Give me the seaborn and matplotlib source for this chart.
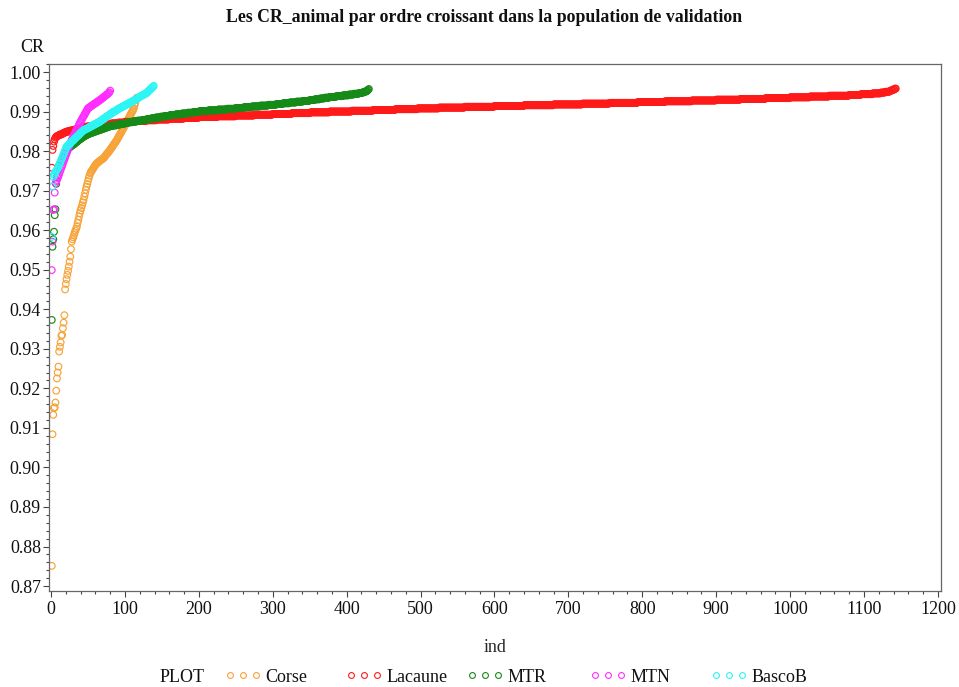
import numpy as np
import pandas as pd
import matplotlib
matplotlib.use("Agg")
import matplotlib.pyplot as plt
from matplotlib.lines import Line2D
from matplotlib.ticker import MultipleLocator, FormatStrFormatter
import seaborn as sns

# ---------------------------------------------------------------------------
# Sorted CR_animal values per breed (ind = rank within the breed).
# Dense series are stored as CR levels with the number of animals per level.
# ---------------------------------------------------------------------------
breeds = ["Corse", "Lacaune", "MTR", "MTN", "BascoB"]
colors = ["#F7A338", "#FF1A1A", "#168A16", "#FF2EFF", "#2EF5F5"]

corse_cr = [
    0.8751, 0.9084, 0.9133, 0.9150, 0.9152, 0.9164, 0.9194, 0.9225, 0.9240, 0.9255,
    0.9293, 0.9305, 0.9316, 0.9333, 0.9335, 0.9352, 0.9366, 0.9385, 0.9450, 0.9464,
    0.9476, 0.9487, 0.9497, 0.9508, 0.9520, 0.9533, 0.9552, 0.9571, 0.9577, 0.9582,
    0.9588, 0.9594, 0.9599, 0.9604, 0.9609, 0.9618, 0.9626, 0.9635, 0.9643, 0.9650,
    0.9656, 0.9663, 0.9670, 0.9676, 0.9685, 0.9693, 0.9702, 0.9710, 0.9717, 0.9724,
    0.9731, 0.9738, 0.9744, 0.9747, 0.9750, 0.9753, 0.9756, 0.9759, 0.9762, 0.9765,
    0.9767, 0.9769, 0.9771, 0.9772, 0.9774, 0.9775, 0.9777, 0.9778, 0.9779, 0.9781,
    0.9782, 0.9784, 0.9787, 0.9789, 0.9792, 0.9794, 0.9796, 0.9798, 0.9801, 0.9803,
    0.9806, 0.9809, 0.9811, 0.9814, 0.9817, 0.9820, 0.9822, 0.9825, 0.9828, 0.9831,
    0.9835, 0.9838, 0.9841, 0.9845, 0.9848, 0.9851, 0.9855, 0.9858, 0.9862, 0.9865,
    0.9869, 0.9872, 0.9876, 0.9879, 0.9883, 0.9887, 0.9890, 0.9894, 0.9897, 0.9901,
    0.9904, 0.9908, 0.9915, 0.9922, 0.9929, 0.9935,
]

lacaune_levels = [
    0.9758, 0.9803, 0.9813, 0.9824, 0.9830, 0.9834, 0.9836,
    0.9838, 0.9840, 0.9842, 0.9844, 0.9846, 0.9848, 0.9850, 0.9852, 0.9854, 0.9856,
    0.9858, 0.9860, 0.9862, 0.9864, 0.9866, 0.9868, 0.9870, 0.9872, 0.9874, 0.9876,
    0.9878, 0.9880, 0.9882, 0.9884, 0.9886, 0.9888, 0.9890, 0.9892, 0.9894, 0.9896,
    0.9898, 0.9900, 0.9902, 0.9904, 0.9906, 0.9908, 0.9910, 0.9912, 0.9914, 0.9916,
    0.9918, 0.9920, 0.9922, 0.9924, 0.9926, 0.9928, 0.9930, 0.9932, 0.9934, 0.9936,
    0.9938, 0.9940, 0.9942, 0.9944, 0.9946, 0.9948, 0.9950, 0.9952, 0.9954, 0.9956,
    0.9958,
]
lacaune_counts = [
    1, 1, 1, 1, 1, 1, 1,
    2, 2, 3, 2, 2, 3, 4, 5, 4, 4,
    5, 4, 7, 9, 9, 9, 9, 9, 14, 15,
    14, 17, 20, 20, 25, 25, 25, 25, 26, 25,
    26, 30, 29, 30, 30, 29, 35, 40, 40, 40,
    39, 37, 38, 37, 36, 33, 33, 34, 33, 27,
    26, 27, 16, 16, 11, 6, 6, 2, 3, 2,
    2,
]

mtr_levels = [
    0.9373, 0.9558, 0.9577, 0.9596, 0.9638, 0.9653, 0.9717, 0.9735, 0.9750, 0.9760,
    0.9764, 0.9768, 0.9772, 0.9776, 0.9780, 0.9784, 0.9788, 0.9791, 0.9795, 0.9799,
    0.9803, 0.9805, 0.9807, 0.9809, 0.9811, 0.9813, 0.9815, 0.9817, 0.9819, 0.9821,
    0.9823, 0.9825, 0.9827, 0.9829, 0.9831, 0.9833, 0.9835, 0.9837, 0.9839, 0.9841,
    0.9843, 0.9845, 0.9847, 0.9849, 0.9851, 0.9853, 0.9855, 0.9857, 0.9859, 0.9861,
    0.9863, 0.9865, 0.9867, 0.9869, 0.9871, 0.9873, 0.9875, 0.9877, 0.9879, 0.9881,
    0.9883, 0.9885, 0.9887, 0.9889, 0.9891, 0.9893, 0.9895, 0.9897, 0.9899, 0.9901,
    0.9903, 0.9905, 0.9907, 0.9909, 0.9911, 0.9913, 0.9915, 0.9917, 0.9919, 0.9921,
    0.9923, 0.9925, 0.9927, 0.9929, 0.9931, 0.9933, 0.9935, 0.9937, 0.9939, 0.9941,
    0.9943, 0.9945, 0.9947, 0.9949, 0.9951, 0.9953, 0.9955, 0.9957,
]
mtr_counts = [
    1, 1, 1, 1, 1, 1, 1, 1, 1, 1,
    1, 1, 1, 1, 1, 1, 1, 1, 1, 1,
    1, 1, 2, 1, 1, 2, 1, 2, 1, 1,
    2, 1, 1, 2, 1, 2, 1, 2, 2, 2,
    2, 3, 3, 3, 3, 3, 3, 3, 3, 3,
    4, 6, 5, 6, 5, 6, 6, 7, 6, 6,
    6, 6, 6, 7, 8, 8, 8, 8, 8, 12,
    13, 12, 12, 11, 11, 11, 11, 11, 9, 9,
    9, 9, 9, 7, 7, 6, 7, 9, 9, 8,
    7, 7, 5, 3, 3, 1, 1, 1,
]

mtn_cr = [
    0.9499, 0.9571, 0.9651, 0.9653, 0.9695, 0.9719, 0.9724, 0.9727, 0.9732, 0.9737,
    0.9742, 0.9748, 0.9753, 0.9758, 0.9763, 0.9768, 0.9774, 0.9779, 0.9784, 0.9789,
    0.9794, 0.9799, 0.9805, 0.9810, 0.9815, 0.9820, 0.9824, 0.9828, 0.9832, 0.9836,
    0.9840, 0.9844, 0.9848, 0.9852, 0.9856, 0.9859, 0.9863, 0.9867, 0.9871, 0.9874,
    0.9878, 0.9881, 0.9885, 0.9888, 0.9891, 0.9895, 0.9898, 0.9901, 0.9905, 0.9908,
    0.9909, 0.9911, 0.9912, 0.9913, 0.9915, 0.9916, 0.9917, 0.9919, 0.9920, 0.9921,
    0.9922, 0.9924, 0.9925, 0.9926, 0.9928, 0.9929, 0.9930, 0.9932, 0.9933, 0.9935,
    0.9936, 0.9938, 0.9939, 0.9941, 0.9942, 0.9944, 0.9945, 0.9947, 0.9949, 0.9953,
]

bascob_levels = [
    0.9583, 0.9710, 0.9735, 0.9740, 0.9743, 0.9747, 0.9750, 0.9753, 0.9757, 0.9760,
    0.9765, 0.9769, 0.9774, 0.9779, 0.9783, 0.9788, 0.9792, 0.9797, 0.9802, 0.9806,
    0.9811, 0.9813, 0.9815, 0.9816, 0.9818, 0.9820, 0.9822, 0.9824, 0.9826, 0.9827,
    0.9829, 0.9831, 0.9833, 0.9835, 0.9837, 0.9838, 0.9840, 0.9842, 0.9844, 0.9846,
    0.9848, 0.9849, 0.9851, 0.9853,
    0.9854, 0.9856, 0.9858, 0.9860, 0.9862, 0.9864, 0.9866, 0.9868, 0.9870, 0.9872,
    0.9874, 0.9876, 0.9878, 0.9880, 0.9882, 0.9884, 0.9886, 0.9888, 0.9890, 0.9892,
    0.9894, 0.9896, 0.9898, 0.9900, 0.9902, 0.9904, 0.9906, 0.9908, 0.9910, 0.9912,
    0.9914, 0.9916, 0.9918, 0.9920, 0.9922, 0.9924, 0.9926, 0.9928, 0.9930, 0.9932,
    0.9934, 0.9936, 0.9938, 0.9940, 0.9942, 0.9944, 0.9946, 0.9948, 0.9950, 0.9952,
    0.9954, 0.9956, 0.9957, 0.9959, 0.9961, 0.9963, 0.9965,
]
bascob_counts = [
    1, 1, 1, 1, 1, 1, 1, 1, 1, 1,
    1, 1, 1, 1, 1, 1, 1, 1, 1, 1,
    1, 1, 1, 1, 1, 1, 1, 1, 1, 1,
    1, 1, 1, 1, 1, 1, 1, 1, 1, 1,
    1, 1, 1, 1,
    2, 2, 2, 2, 2, 2, 2, 2, 2, 2,
    2, 1, 2, 1, 2, 1, 2, 1, 2, 1,
    2, 1, 2, 2, 2, 1, 2, 2, 2, 2,
    2, 2, 2, 2, 2, 2, 2, 2, 1, 2,
    2, 1, 2, 2, 2, 2, 2, 1, 1, 1,
    1, 1, 1, 1, 1, 1, 1,
]

series = {
    "Corse": np.asarray(corse_cr),
    "Lacaune": np.repeat(lacaune_levels, lacaune_counts),
    "MTR": np.repeat(mtr_levels, mtr_counts),
    "MTN": np.asarray(mtn_cr),
    "BascoB": np.repeat(bascob_levels, bascob_counts),
}

frames = []
for name in breeds:
    cr = series[name]
    frames.append(pd.DataFrame({"PLOT": name, "ind": np.arange(1, len(cr) + 1), "CR": cr}))
df = pd.concat(frames, ignore_index=True)

# ---------------------------------------------------------------------------
sns.set_style("white")
plt.rcParams["font.family"] = ["Liberation Serif", "DejaVu Serif"]
plt.rcParams["text.color"] = "#111111"

fig = plt.figure(figsize=(9.59, 6.87), dpi=100)
ax = fig.add_axes([0.0506, 0.1397, 0.9307, 0.7671])

palette = dict(zip(breeds, colors))
sns.scatterplot(data=df, x="ind", y="CR", hue="PLOT", hue_order=breeds,
                palette=palette, s=23, linewidth=0.85, legend=False, ax=ax)

# hollow circles: move the hue colours to the marker outlines
pts = ax.collections[0]
fc = np.array(pts.get_facecolors())
pts.set_edgecolors(fc)
pts.set_facecolors("none")

ax.set_xlim(-3.4, 1204.3)
ax.set_ylim(0.86874, 1.00202)
ax.xaxis.set_major_locator(MultipleLocator(100))
ax.xaxis.set_minor_locator(MultipleLocator(20))
ax.yaxis.set_major_locator(MultipleLocator(0.01))
ax.yaxis.set_minor_locator(MultipleLocator(0.002))
ax.yaxis.set_major_formatter(FormatStrFormatter("%.2f"))

for sp in ax.spines.values():
    sp.set_color("#666666")
    sp.set_linewidth(0.9)

ax.tick_params(which="both", direction="out", bottom=True, left=True,
               top=False, right=False, color="#444444", width=0.8)
ax.tick_params(which="major", length=4, labelsize=13, labelcolor="#111111", pad=1.5)
ax.tick_params(axis="x", which="major", pad=3.5)
ax.tick_params(which="minor", length=2.5)

ax.set_xlabel("ind", fontsize=13, labelpad=15)
ax.set_ylabel("")
fig.text(32 / 959, 1 - 48 / 687, "CR", fontsize=13, ha="center", va="center")

fig.text(484 / 959, 1 - 18 / 687,
         "Les CR_animal par ordre croissant dans la population de validation",
         fontsize=12.8, fontweight="bold", ha="center", va="center")

# legend row at the bottom
leg_y = 1 - 677 / 687
fig.text(160 / 959, leg_y, "PLOT", fontsize=13, ha="left", va="center")
leg_x = [225, 346, 467, 590, 711]
for name, col, x0 in zip(breeds, colors, leg_x):
    h = Line2D([], [], linestyle="none", marker="o", markersize=4.2,
               markerfacecolor="none", markeredgecolor=col, markeredgewidth=0.8)
    fig.legend(handles=[h], labels=[name], loc="center left",
               bbox_to_anchor=(x0 / 959, leg_y), frameon=False, numpoints=3,
               borderpad=0, borderaxespad=0, handletextpad=0.25,
               handlelength=2.0, fontsize=13)

fig.savefig("out.png", dpi=100)
